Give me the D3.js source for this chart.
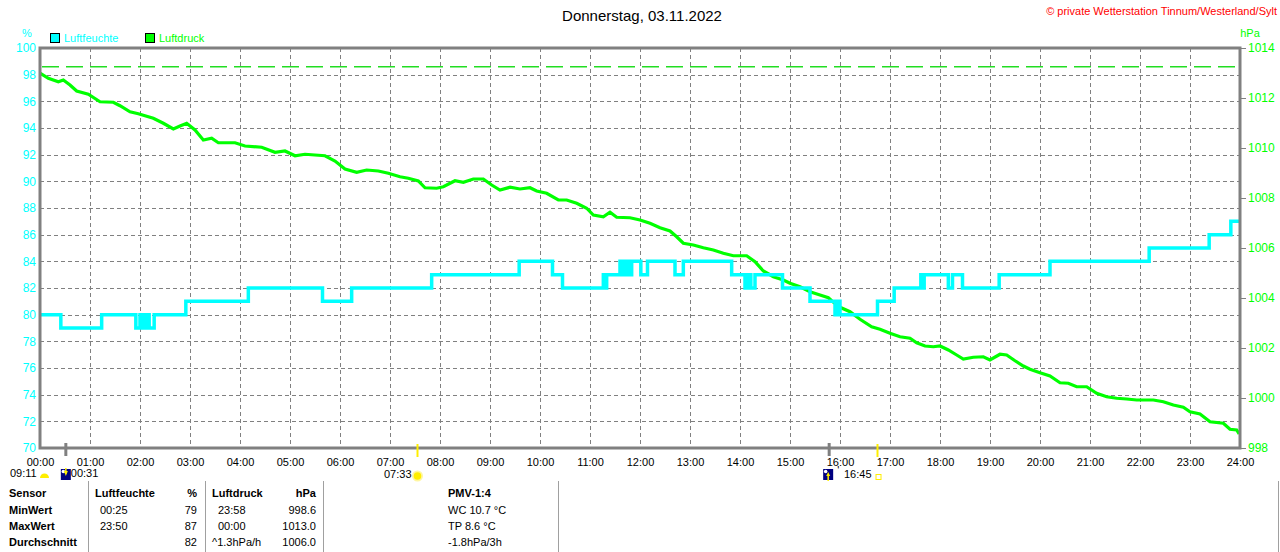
<!DOCTYPE html>
<html>
<head>
<meta charset="utf-8">
<script src="https://cdn.jsdelivr.net/npm/d3@7"></script>
<style>
    body { margin: 0; background: #fff; }
    svg { display: block; font-family: "Liberation Sans", Arial, sans-serif; }
</style>
</head>
<body>
<div id="chart"></div>
<script>
// ---- data (minutes since midnight) ----
const hourLabels = ["00:00","01:00","02:00","03:00","04:00","05:00","06:00","07:00","08:00","09:00","10:00","11:00","12:00",
    "13:00","14:00","15:00","16:00","17:00","18:00","19:00","20:00","21:00","22:00","23:00","24:00"];
const humTicks = [70,72,74,76,78,80,82,84,86,88,90,92,94,96,98,100];
const presTicks = [998,1000,1002,1004,1006,1008,1010,1012,1014];

// Luftfeuchte, step values
const humTimes  = [0,25,74,115,120,122,125,127,129,131,137,175,250,339,374,470,575,615,627,676,678,680,696,699,703,706,710,721,729,762,772,
    830,846,850,853,858,891,924,954,957,960,1005,1025,1057,1059,1061,1090,1095,1107,1151,1212,1331,1403,1429,1440];
const humValues = [80,79,80,79,80,79,80,79,80,79,80,81,82,81,82,83,84,83,82,83,82,83,84,83,84,83,84,83,84,83,84,
    83,82,83,82,83,82,81,80,81,80,81,82,83,82,83,82,83,82,83,84,85,86,87,87];

// Luftdruck
const presTimes  = [0,10,22,28,36,44,58,72,88,96,108,118,126,136,148,160,168,176,186,196,206,214,234,246,266,282,294,306,318,330,342,
    354,366,380,392,406,418,432,442,454,462,476,484,498,508,520,532,542,552,564,576,588,596,608,622,632,644,656,664,676,684,692,708,
    720,732,744,756,764,772,784,796,808,820,832,848,858,868,880,892,900,912,924,936,946,950,960,972,984,998,1008,1020,1032,1044,
    1052,1062,1072,1080,1090,1100,1108,1120,1132,1140,1152,1160,1170,1180,1188,1200,1212,1224,1234,1244,1256,1268,1280,1292,1304,
    1316,1336,1348,1360,1372,1380,1392,1404,1420,1428,1436,1439];
const presValues = [1013.0,1012.79,1012.65,1012.72,1012.52,1012.28,1012.15,1011.85,1011.83,1011.69,1011.45,1011.37,1011.29,1011.19,
    1010.99,1010.76,1010.88,1010.99,1010.72,1010.32,1010.39,1010.21,1010.21,1010.08,1010.03,1009.83,1009.88,1009.69,1009.75,1009.72,
    1009.69,1009.48,1009.16,1009.03,1009.12,1009.08,1008.99,1008.85,1008.79,1008.68,1008.41,1008.39,1008.45,1008.69,1008.63,1008.76,
    1008.76,1008.52,1008.32,1008.43,1008.36,1008.41,1008.28,1008.19,1007.92,1007.92,1007.79,1007.59,1007.32,1007.25,1007.43,1007.23,
    1007.21,1007.12,1006.99,1006.81,1006.68,1006.45,1006.19,1006.12,1006.01,1005.92,1005.79,1005.69,1005.69,1005.45,1005.08,1004.85,
    1004.72,1004.59,1004.45,1004.25,1004.12,1004.01,1003.89,1003.63,1003.45,1003.15,1002.85,1002.75,1002.59,1002.45,1002.39,1002.21,
    1002.08,1002.05,1002.08,1001.92,1001.72,1001.56,1001.63,1001.65,1001.52,1001.75,1001.72,1001.49,1001.28,1001.15,1001.01,1000.88,
    1000.61,1000.59,1000.45,1000.45,1000.19,1000.05,999.99,999.96,999.92,999.92,999.85,999.72,999.63,999.45,999.36,999.05,998.99,
    998.75,998.72,998.56];
const refPressure = 1013.25;

// Sonne / Mond (minutes)
const moonEvents = [31, 947];
const sunEvents = [453, 1005];

// Tabelle
const tableRows = ["Sensor", "MinWert", "MaxWert", "Durchschnitt"];
const humCol = [["Luftfeuchte", "%"], ["00:25", "79"], ["23:50", "87"], ["", "82"]];
const presCol = [["Luftdruck", "hPa"], ["23:58", "998.6"], ["00:00", "1013.0"], ["^1.3hPa/h", "1006.0"]];
const pmvCol = ["PMV-1:4", "WC 10.7 °C", "TP 8.6 °C", "-1.8hPa/3h"];

const CYAN = "#00ffff", GREEN = "#00ff00", GRID = "#808080";

const width = 1280, height = 552;
const margin = {top: 48, right: 40, bottom: 104, left: 40};

const svg = d3.select("#chart").append("svg")
    .attr("width", width)
    .attr("height", height);

const x = d3.scaleLinear().domain([0, 1440]).range([margin.left, width - margin.right]);
const yHum = d3.scaleLinear().domain([70, 100]).range([height - margin.bottom, margin.top]);
const yPres = d3.scaleLinear().domain([998, 1014]).range([height - margin.bottom, margin.top]);
const hourMin = s => +s.slice(0, 2) * 60;

// title + copyright
svg.append("text").attr("x", 642).attr("y", 21).attr("text-anchor", "middle")
    .style("font-size", "15px").attr("fill", "#000").text("Donnerstag, 03.11.2022");
svg.append("text").attr("x", 1277).attr("y", 15).attr("text-anchor", "end")
    .style("font-size", "11px").attr("fill", "#ff0000").text("© private Wetterstation Tinnum/Westerland/Sylt");

// unit labels + legend
svg.append("text").attr("x", 27).attr("y", 37).attr("text-anchor", "middle")
    .style("font-size", "11px").attr("fill", CYAN).text("%");
svg.append("text").attr("x", 1250).attr("y", 37).attr("text-anchor", "middle")
    .style("font-size", "11px").attr("fill", GREEN).text("hPa");

const legend = [{label: "Luftfeuchte", color: CYAN, x: 50}, {label: "Luftdruck", color: GREEN, x: 145}];
legend.forEach(d => {
    svg.append("rect").attr("x", d.x + 0.5).attr("y", 33.5).attr("width", 9).attr("height", 9)
        .attr("fill", d.color).attr("stroke", "#000").attr("stroke-width", 1);
    svg.append("text").attr("x", d.x + 14).attr("y", 42).style("font-size", "11px")
        .attr("fill", d.color).text(d.label);
});

// grid
const grid = svg.append("g").attr("stroke", GRID).attr("stroke-width", 1).attr("stroke-dasharray", "4,3");
grid.selectAll(".vGrid").data(hourLabels.slice(1, -1)).enter().append("line")
    .attr("x1", d => Math.round(x(hourMin(d))) + 0.5).attr("x2", d => Math.round(x(hourMin(d))) + 0.5)
    .attr("y1", yHum(100)).attr("y2", yHum(70));
grid.selectAll(".hGrid").data(humTicks.slice(1, -1)).enter().append("line")
    .attr("x1", x(0)).attr("x2", x(1440))
    .attr("y1", d => Math.round(yHum(d)) + 0.5).attr("y2", d => Math.round(yHum(d)) + 0.5);

// reference pressure
svg.append("line").attr("x1", x(0) + 2).attr("x2", x(1440) - 2)
    .attr("y1", yPres(refPressure)).attr("y2", yPres(refPressure))
    .attr("stroke", "#22dd22").attr("stroke-width", 1.5).attr("stroke-dasharray", "17,7");

svg.append("clipPath").attr("id", "plotClip").append("rect")
    .attr("x", x(0)).attr("y", yHum(100)).attr("width", x(1440) - x(0)).attr("height", yHum(70) - yHum(100));

const presLine = d3.line().x(d => x(d[0])).y(d => yPres(d[1]));
svg.append("path").datum(presTimes.map((t, i) => [t, presValues[i]]))
    .attr("clip-path", "url(#plotClip)")
    .attr("d", presLine).attr("fill", "none").attr("stroke", GREEN)
    .attr("stroke-width", 3.2).attr("stroke-linejoin", "miter");

const humLine = d3.line().curve(d3.curveStepAfter).x(d => x(d[0])).y(d => yHum(d[1]));
svg.append("path").datum(humTimes.map((t, i) => [t, humValues[i]]))
    .attr("clip-path", "url(#plotClip)")
    .attr("d", humLine).attr("fill", "none").attr("stroke", CYAN).attr("stroke-width", 3.5);

// frame
svg.append("rect").attr("x", x(0)).attr("y", yHum(100)).attr("width", x(1440) - x(0)).attr("height", yHum(70) - yHum(100))
    .attr("fill", "none").attr("stroke", GRID).attr("stroke-width", 3);

// axes
const leftAxis = svg.append("g").attr("transform", `translate(${x(0) - 4},0)`)
    .call(d3.axisLeft(yHum).tickValues(humTicks).tickSize(0).tickPadding(0));
leftAxis.select(".domain").remove();
leftAxis.selectAll("text").attr("fill", CYAN).style("font-size", "12px").style("font-family", "inherit");

const rightAxis = svg.append("g").attr("transform", `translate(${x(1440) + 1},0)`)
    .call(d3.axisRight(yPres).tickValues(presTicks).tickFormat(d3.format("d")).tickSize(5).tickPadding(2));
rightAxis.select(".domain").remove();
rightAxis.selectAll("line").attr("stroke", GRID);
rightAxis.selectAll("text").attr("fill", GREEN).style("font-size", "12px").style("font-family", "inherit");

const bottomAxis = svg.append("g").attr("transform", `translate(0,${yHum(70) + 10})`)
    .call(d3.axisBottom(x).tickValues(hourLabels.map(hourMin)).tickFormat((d, i) => hourLabels[i]).tickSize(0).tickPadding(0));
bottomAxis.select(".domain").remove();
bottomAxis.selectAll("text").attr("fill", "#000").style("font-size", "11px").style("font-family", "inherit");

// sun / moon markers
const axisY = yHum(70);
svg.selectAll(".moonTick").data(moonEvents).enter().append("line")
    .attr("x1", d => x(d)).attr("x2", d => x(d)).attr("y1", axisY - 5).attr("y2", axisY + 8)
    .attr("stroke", GRID).attr("stroke-width", 3);
svg.selectAll(".sunTick").data(sunEvents).enter().append("line")
    .attr("x1", d => x(d)).attr("x2", d => x(d)).attr("y1", axisY - 4).attr("y2", axisY + 9)
    .attr("stroke", "#ffee00").attr("stroke-width", 2);

const info = svg.append("g").style("font-size", "11px").attr("fill", "#000");
info.append("text").attr("x", 10).attr("y", 477).text("09:11");
info.append("path").attr("d", "M40,478 A4.5,4.5 0 0 1 49,478 Z").attr("fill", "#ffee00");
info.append("text").attr("x", x(moonEvents[0]) + 5).attr("y", 477).text("00:31");
info.append("text").attr("x", x(sunEvents[0]) - 6).attr("y", 478).attr("text-anchor", "end").text("07:33");
info.append("text").attr("x", x(sunEvents[1]) - 6).attr("y", 478).attr("text-anchor", "end").text("16:45");
info.append("text").attr("x", x(moonEvents[1]) + 8).attr("y", 474).text("'");

moonEvents.forEach((t, i) => {
    const mx = x(t) - (i === 0 ? 5 : 6);
    info.append("rect").attr("x", mx).attr("y", 469).attr("width", 10).attr("height", 11).attr("fill", "#000080");
    info.append("circle").attr("cx", mx + 2.5).attr("cy", 471.5).attr("r", 1.8).attr("fill", "#fff");
    info.append("path").attr("d", i === 0
        ? `M${mx + 3},471 L${mx + 7},471 L${mx + 5},476 Z`
        : `M${mx + 3},476 L${mx + 7},476 L${mx + 5},472 Z`).attr("fill", "#ffee00");
    info.append("line").attr("x1", mx + 5).attr("x2", mx + 5).attr("y1", i === 0 ? 468 : 475).attr("y2", i === 0 ? 474 : 481)
        .attr("stroke", "#ffee00").attr("stroke-width", 1.5);
});
info.append("circle").attr("cx", x(sunEvents[0])).attr("cy", 476).attr("r", 5.5).attr("fill", "#fff6a0");
info.append("circle").attr("cx", x(sunEvents[0])).attr("cy", 476).attr("r", 3.8).attr("fill", "#ffee00");
info.append("rect").attr("x", x(sunEvents[1]) - 1.5).attr("y", 474.5).attr("width", 5).attr("height", 5)
    .attr("fill", "none").attr("stroke", "#ffee00").attr("stroke-width", 1);

// table
const rowY = [497, 514, 530, 546];
const table = svg.append("g").style("font-size", "11px").attr("fill", "#000");
tableRows.forEach((r, i) => {
    table.append("text").attr("x", 9).attr("y", rowY[i]).style("font-weight", "bold").text(r);
    const bold = i === 0 ? "bold" : "normal";
    table.append("text").attr("x", i === 0 ? 95 : 100).attr("y", rowY[i]).style("font-weight", bold).text(humCol[i][0]);
    table.append("text").attr("x", 197).attr("y", rowY[i]).attr("text-anchor", "end").style("font-weight", bold).text(humCol[i][1]);
    table.append("text").attr("x", i === 0 || i === 3 ? 212 : 218).attr("y", rowY[i]).style("font-weight", bold).text(presCol[i][0]);
    table.append("text").attr("x", 316).attr("y", rowY[i]).attr("text-anchor", "end").style("font-weight", bold).text(presCol[i][1]);
    table.append("text").attr("x", 448).attr("y", rowY[i]).style("font-weight", bold).text(pmvCol[i]);
});
[88, 205, 323, 558, 1278].forEach(sx => {
    table.append("line").attr("x1", sx + 0.5).attr("x2", sx + 0.5).attr("y1", 481).attr("y2", 552)
        .attr("stroke", "#a0a0a0").attr("stroke-width", 1);
});
</script>
</body>
</html>
